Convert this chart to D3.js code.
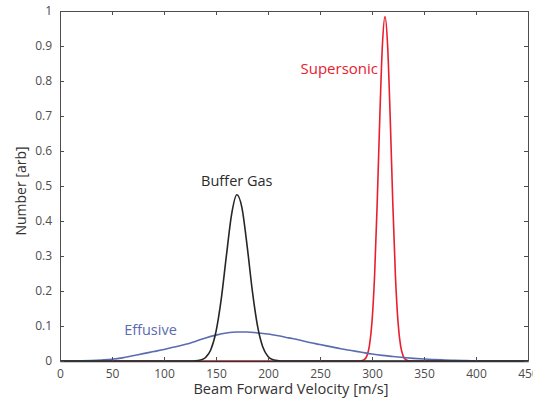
<!DOCTYPE html>
<html>
<head>
<meta charset="utf-8">
<script src="https://cdn.jsdelivr.net/npm/d3@7"></script>
<style>
    body { margin: 0; background: #fff; }
    #wrapper { width: 533px; height: 399px; overflow: hidden; }
    text { font-family: "Open Sans", sans-serif; }
</style>
</head>
<body>
<div id="wrapper"></div>
<script>
// effusive beam, sampled every 10 m/s
const effusiveV = [0, 10, 20, 30, 40, 50, 60, 70, 80, 90, 100, 110, 120, 130, 140, 150, 160, 170, 180, 190,
    200, 210, 220, 230, 240, 250, 260, 270, 280, 290, 300, 310, 320, 330, 340, 350, 360, 370, 380, 390,
    400, 410, 420, 450];
const effusiveN = [0, 0, 0.0005, 0.0015, 0.003, 0.005, 0.009, 0.015, 0.021, 0.027, 0.033, 0.040, 0.047, 0.056, 0.066, 0.074, 0.080, 0.083, 0.083, 0.080,
    0.077, 0.072, 0.066, 0.060, 0.053, 0.047, 0.041, 0.035, 0.030, 0.025, 0.020, 0.016, 0.013, 0.010, 0.0075, 0.0055, 0.004, 0.0028, 0.0018, 0.001,
    0.0005, 0.0002, 0, 0];

// buffer gas beam
const bufferV = [0, 125, 130, 135, 140, 145, 150, 155, 160, 165, 170, 175, 180, 185, 190, 195, 200, 205, 210, 215, 450];
const bufferN = [0, 0, 0.0005, 0.0026, 0.010, 0.032, 0.084, 0.176, 0.301, 0.419, 0.475, 0.437, 0.327, 0.199, 0.099, 0.040, 0.013, 0.0035, 0.0008, 0, 0];

// supersonic beam
const supersonicV = [0, 287.5, 290, 292.5, 295, 297.5, 300, 302.5, 305, 307.5, 310, 312.5, 315, 317.5, 320, 322.5, 325, 327.5, 330, 332.5, 335, 337.5, 450];
const supersonicN = [0, 0, 0.0009, 0.0038, 0.014, 0.043, 0.112, 0.245, 0.451, 0.696, 0.902, 0.984, 0.902, 0.696, 0.451, 0.245, 0.112, 0.043, 0.014, 0.0038, 0.0009, 0, 0];

const xTicks = [0, 50, 100, 150, 200, 250, 300, 350, 400, 450];
const yTicks = [0, 0.1, 0.2, 0.3, 0.4, 0.5, 0.6, 0.7, 0.8, 0.9, 1];

function buildPlot() {
    var dimension = {
        width: 533,
        height: 399,
        margin: { top: 11, left: 60, bottom: 38, right: 5 }
    };
    dimension.boundedWidth = dimension.width - dimension.margin.left - dimension.margin.right;
    dimension.boundedHeight = dimension.height - dimension.margin.top - dimension.margin.bottom;

    const svg = d3.select("#wrapper").append("svg")
        .attr("width", dimension.width)
        .attr("height", dimension.height);

    const bounds = svg.append("g")
        .attr("transform", `translate(${dimension.margin.left},${dimension.margin.top})`);

    const xScaler = d3.scaleLinear().domain([0, 450]).range([0, dimension.boundedWidth]);
    const yScaler = d3.scaleLinear().domain([0, 1]).range([dimension.boundedHeight, 0]);

    const axisColor = "#4d4d4d";

    // curves, red under black so its zero line only shows where black lifts
    const line = d3.line()
        .x(d => xScaler(d[0]))
        .y(d => yScaler(d[1]))
        .curve(d3.curveMonotoneX);

    const series = [
        { v: supersonicV, n: supersonicN, color: "#e8202e" },
        { v: effusiveV, n: effusiveN, color: "#5a6cb0" },
        { v: bufferV, n: bufferN, color: "#262626" }
    ];

    bounds.selectAll("path.curve")
        .data(series)
        .enter()
        .append("path")
        .attr("class", "curve")
        .attr("d", s => line(s.v.map((v, i) => [v, s.n[i]])))
        .attr("fill", "none")
        .attr("stroke", s => s.color)
        .attr("stroke-width", 1.6);

    // axes with inward ticks on all four sides
    const xAxis = bounds.append("g")
        .attr("transform", `translate(0,${dimension.boundedHeight})`)
        .call(d3.axisBottom(xScaler).tickValues(xTicks).tickSize(-4).tickPadding(8).tickSizeOuter(0));
    const yAxis = bounds.append("g")
        .call(d3.axisLeft(yScaler).tickValues(yTicks).tickSize(-4).tickPadding(8).tickSizeOuter(0)
            .tickFormat(d => d === 0 || d === 1 ? d : d3.format(".1f")(d)));
    const topAxis = bounds.append("g")
        .call(d3.axisTop(xScaler).tickValues(xTicks).tickSize(-4).tickSizeOuter(0).tickFormat(""));
    const rightAxis = bounds.append("g")
        .attr("transform", `translate(${dimension.boundedWidth},0)`)
        .call(d3.axisRight(yScaler).tickValues(yTicks).tickSize(-4).tickSizeOuter(0).tickFormat(""));

    [xAxis, yAxis, topAxis, rightAxis].forEach(a => {
        a.selectAll("path").attr("stroke", axisColor).attr("stroke-width", 1);
        a.selectAll("line").attr("stroke", axisColor);
        a.selectAll("text").attr("fill", axisColor).style("font-size", "12px")
            .style("font-family", "'Open Sans', sans-serif");
    });
    xAxis.select(".domain").attr("stroke", "#333").attr("stroke-width", 1.5);

    // axis titles
    svg.append("text")
        .attr("x", 291)
        .attr("y", 394)
        .attr("text-anchor", "middle")
        .attr("fill", "#333")
        .style("font-size", "14.6px")
        .text("Beam Forward Velocity [m/s]");

    svg.append("text")
        .attr("transform", "translate(26,191) rotate(-90)")
        .attr("text-anchor", "middle")
        .attr("fill", "#333")
        .style("font-size", "14px")
        .text("Number [arb]");

    // curve labels
    bounds.append("text")
        .attr("x", xScaler(87))
        .attr("y", yScaler(0.075))
        .attr("text-anchor", "middle")
        .attr("fill", "#5a6cb0")
        .style("font-size", "14.5px")
        .text("Effusive");

    bounds.append("text")
        .attr("x", xScaler(170))
        .attr("y", yScaler(0.5))
        .attr("text-anchor", "middle")
        .attr("fill", "#2b2b2b")
        .style("font-size", "14.5px")
        .text("Buffer Gas");

    bounds.append("text")
        .attr("x", xScaler(268.5))
        .attr("y", yScaler(0.82))
        .attr("text-anchor", "middle")
        .attr("fill", "#e8202e")
        .style("font-size", "15px")
        .text("Supersonic");
}

buildPlot();
</script>
</body>
</html>
